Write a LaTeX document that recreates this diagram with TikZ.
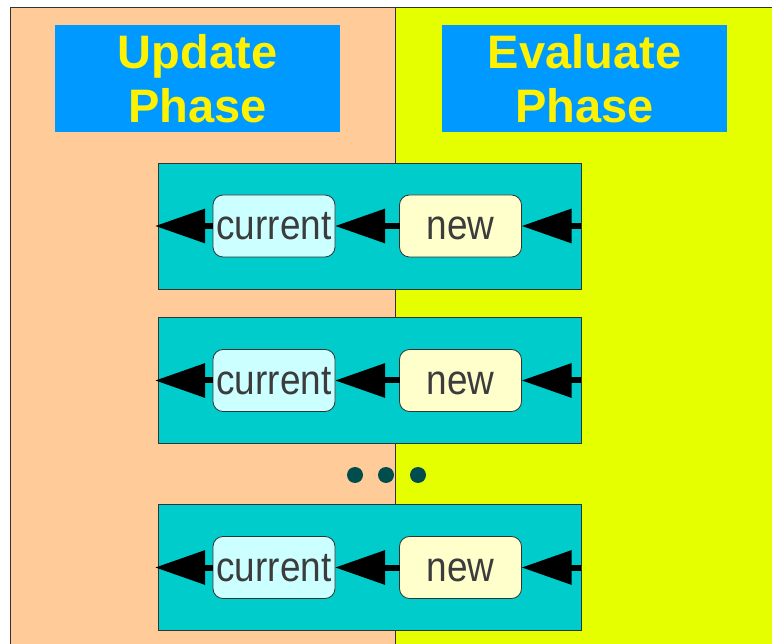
\documentclass[tikz,border=0pt]{standalone}
\usepackage{fontspec}
\setmainfont{Liberation Sans}
\newfontfamily\valuefont[FakeStretch=0.88]{Liberation Sans}
\usetikzlibrary{arrows.meta, positioning}

\definecolor{peach}{HTML}{FFCC99}
\definecolor{lime}{HTML}{E6FF00}
\definecolor{phaseblue}{HTML}{0099FF}
\definecolor{signalteal}{HTML}{00CCCC}
\definecolor{curfill}{HTML}{CCFFFF}
\definecolor{newfill}{HTML}{FFFFCC}
\definecolor{labelgray}{HTML}{3C3C3C}
\definecolor{dotteal}{HTML}{004D4D}

\begin{document}
\begin{tikzpicture}[x=1pt, y=-1pt,
  border/.style = {draw=black!80, line width=1pt},
  phase/.style = {fill=phaseblue, text=yellow, inner sep=0pt, align=center,
    minimum width=285pt, minimum height=107pt,
    font=\fontsize{47}{54}\selectfont\bfseries},
  signal/.style = {draw=black!80, line width=0.8pt, fill=signalteal,
    minimum width=423pt, minimum height=126pt, outer sep=0pt},
  value/.style = {draw=black!80, line width=0.8pt, rounded corners=10pt,
    minimum width=122pt, minimum height=62pt, inner sep=0pt, outer sep=0pt,
    text height=28pt, text depth=0pt,
    text=labelgray, font=\valuefont\fontsize{42}{44}\selectfont},
  cur/.style = {value, fill=curfill},
  nxt/.style = {value, fill=newfill},
  flow/.style = {line width=6pt, -{Triangle[length=50pt, width=33pt]}},
  dot/.style = {fill=dotteal}
]

\useasboundingbox (0,0) rectangle (772,644);

% Phase panels
\fill[peach] (10,8) rectangle (395,644);
\fill[lime] (395,8) rectangle (772,644);
\draw[border] (10,644) -- (10,8) -- (772,8);
\draw[border] (395,8) -- (395,644);

% Titles
\node[phase] (update) at (197.5,78.5) {Update\\Phase};
\node[phase] (evaluate) at (584.5,78.5) {Evaluate\\Phase};

% First signal
\node[signal] (sig1) at (369.5,226) {};
\node[cur] (cur1) at (274,226) {current};
\node[nxt] (new1) at (460.5,226) {new};
\coordinate (out1) at (155,226);
\draw[flow] (sig1.east) -- (new1.east);
\draw[flow] (new1.west) -- (cur1.east);
\draw[flow] (cur1.west) -- (out1);

% Second signal
\node[signal] (sig2) at (369.5,380.5) {};
\node[cur] (cur2) at (274,380.5) {current};
\node[nxt] (new2) at (460.5,380.5) {new};
\coordinate (out2) at (155,380.5);
\draw[flow] (sig2.east) -- (new2.east);
\draw[flow] (new2.west) -- (cur2.east);
\draw[flow] (cur2.west) -- (out2);

% More signals
\fill[dot] (355,475) circle (8pt);
\fill[dot] (386,475) circle (8pt);
\fill[dot] (418,475) circle (8pt);

% Last signal
\node[signal] (sig3) at (369.5,567.5) {};
\node[cur] (cur3) at (274,567.5) {current};
\node[nxt] (new3) at (460.5,567.5) {new};
\coordinate (out3) at (155,567.5);
\draw[flow] (sig3.east) -- (new3.east);
\draw[flow] (new3.west) -- (cur3.east);
\draw[flow] (cur3.west) -- (out3);

\end{tikzpicture}
\end{document}
